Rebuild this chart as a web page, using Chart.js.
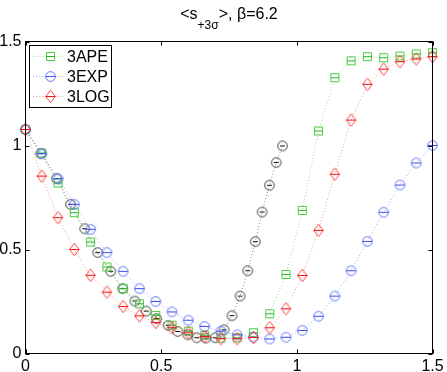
<!DOCTYPE html>
<html><head><meta charset="utf-8">
<script src="https://cdn.jsdelivr.net/npm/chart.js@4/dist/chart.umd.min.js"></script>
<style>html,body{margin:0;padding:0;background:#fff;overflow:hidden}</style>
</head><body>
<canvas id="c" width="447" height="372"></canvas>
<script>
// ---------- data ----------
const xGrid = [0,0.06,0.12,0.18,0.24,0.3,0.36,0.42,0.48,0.54,0.6,0.66,0.72,0.78,0.84,0.9,0.96,1.02,1.08,1.14,1.2,1.26,1.32,1.38,1.44,1.5];
const apeY = [1.077,0.964,0.820,0.677,0.536,0.416,0.312,0.239,0.183,0.136,0.108,0.088,0.074,0.076,0.100,0.191,0.380,0.688,1.070,1.326,1.407,1.427,1.422,1.430,1.440,1.446];
const expY = [1.077,0.961,0.841,0.717,0.597,0.485,0.395,0.312,0.250,0.200,0.160,0.130,0.107,0.090,0.078,0.070,0.078,0.111,0.179,0.276,0.398,0.539,0.679,0.810,0.916,1.000];
const logY = [1.077,0.853,0.653,0.500,0.376,0.295,0.226,0.181,0.149,0.124,0.100,0.082,0.071,0.071,0.077,0.124,0.215,0.375,0.592,0.862,1.122,1.294,1.367,1.403,1.416,1.427];
const refX = [0,0.056,0.114,0.166,0.218,0.266,0.314,0.358,0.403,0.445,0.483,0.526,0.561,0.598,0.631,0.664,0.699,0.732,0.761,0.791,0.819,0.847,0.872,0.899,0.924,0.947];
const refY = [1.077,0.961,0.841,0.717,0.600,0.485,0.395,0.312,0.252,0.204,0.168,0.135,0.106,0.090,0.076,0.074,0.076,0.114,0.182,0.276,0.398,0.538,0.680,0.809,0.918,0.998];
const seriesNames = ['3APE','3EXP','3LOG'];
const tickValues = [0,0.5,1,1.5];
const tickLabels = ['0','0.5','1','1.5'];
const titleParts = ['<s', '+3\u03c3', '>, \u03b2=6.2'];

const FONT = '"Liberation Sans", Arial, Helvetica, sans-serif';

function marker(shape, stroke, inner, innerLen) {
  const c = document.createElement('canvas');
  c.width = 13; c.height = 15;
  const g = c.getContext('2d');
  g.lineWidth = 1;
  g.strokeStyle = stroke;
  const cx = 6.5, cy = 7.5;
  g.beginPath();
  if (shape === 'circle') {
    g.arc(cx, cy, 4.8, 0, Math.PI * 2);
  } else if (shape === 'square') {
    g.rect(cx - 4, cy - 4, 8, 8);
  } else {
    g.moveTo(cx, cy - 6.3); g.lineTo(cx + 4.7, cy); g.lineTo(cx, cy + 6.3); g.lineTo(cx - 4.7, cy); g.closePath();
  }
  g.stroke();
  g.beginPath();
  g.strokeStyle = inner;
  g.moveTo(cx - innerLen / 2, cy); g.lineTo(cx + innerLen / 2, cy);
  g.stroke();
  return c;
}

const mkApe = marker('square', 'rgb(70,205,60)', 'rgb(40,180,40)', 8);
const mkExp = marker('circle', 'rgb(95,115,255)', 'rgb(60,80,240)', 9.6);
const mkLog = marker('diamond', 'rgb(255,70,70)', 'rgb(235,20,20)', 9.4);
const mkRef = marker('circle', 'rgb(60,60,60)', 'rgb(20,20,20)', 5);

function pts(xs, ys) { return xs.map((x, i) => ({x: x, y: ys[i]})); }

function ds(label, data, img, lineColor, order) {
  return {
    label: label, data: data, pointStyle: img, pointRadius: 6,
    borderColor: lineColor, backgroundColor: lineColor, borderWidth: 1,
    borderDash: [1, 2.2], fill: false, tension: 0, clip: false, order: order
  };
}

const frame = {
  id: 'frame',
  afterDraw(chart) {
    const {ctx, chartArea: a, scales} = chart;
    ctx.save();
    ctx.strokeStyle = '#000';
    ctx.lineWidth = 1;
    ctx.strokeRect(a.left, a.top, a.right - a.left, a.bottom - a.top);
    ctx.beginPath();
    tickValues.forEach(v => {
      const x = Math.round(scales.x.getPixelForValue(v)) + 0.5;
      ctx.moveTo(x, a.bottom); ctx.lineTo(x, a.bottom - 4);
      ctx.moveTo(x, a.top); ctx.lineTo(x, a.top + 4);
      const y = Math.round(scales.y.getPixelForValue(v)) + 0.5;
      ctx.moveTo(a.left, y); ctx.lineTo(a.left + 4, y);
      ctx.moveTo(a.right, y); ctx.lineTo(a.right - 4, y);
    });
    ctx.stroke();
    // title
    ctx.fillStyle = '#000';
    ctx.textBaseline = 'alphabetic';
    ctx.font = '16px ' + FONT;
    const w0 = ctx.measureText(titleParts[0]).width;
    const w2 = ctx.measureText(titleParts[2]).width;
    ctx.font = '12px ' + FONT;
    const w1 = ctx.measureText(titleParts[1]).width;
    const total = w0 + w1 + w2;
    let x = (a.left + a.right) / 2 - total / 2;
    ctx.font = '16px ' + FONT;
    ctx.fillText(titleParts[0], x, 19); x += w0;
    ctx.font = '12px ' + FONT;
    ctx.fillText(titleParts[1], x, 28.5); x += w1;
    ctx.font = '16px ' + FONT;
    ctx.fillText(titleParts[2], x, 19);
    // legend box
    const items = chart.data.datasets.filter(d => seriesNames.includes(d.label));
    const bx = 29.5, by = 45.5, bw = 82, bh = 62;
    ctx.fillStyle = '#fff';
    ctx.fillRect(bx, by, bw, bh);
    ctx.strokeStyle = '#000';
    ctx.strokeRect(bx, by, bw, bh);
    items.forEach((d, i) => {
      const ry = 56.5 + i * 20;
      ctx.save();
      ctx.strokeStyle = d.borderColor;
      ctx.setLineDash([1, 2.2]);
      ctx.beginPath(); ctx.moveTo(33, ry); ctx.lineTo(63, ry); ctx.stroke();
      ctx.restore();
      ctx.drawImage(d.pointStyle, 50.5 - 6.5, ry - 7.5);
      ctx.fillStyle = '#000';
      ctx.font = '16px ' + FONT;
      ctx.textBaseline = 'middle';
      ctx.fillText(d.label, 67, ry + 1);
    });
    ctx.restore();
  }
};

new Chart(document.getElementById('c'), {
  type: 'line',
  data: {
    datasets: [
      ds('', pts(refX, refY), mkRef, 'rgba(70,70,70,0.65)', 4),
      ds(seriesNames[0], pts(xGrid, apeY), mkApe, 'rgba(80,210,70,0.6)', 3),
      ds(seriesNames[1], pts(xGrid, expY), mkExp, 'rgba(100,120,255,0.6)', 2),
      ds(seriesNames[2], pts(xGrid, logY), mkLog, 'rgba(255,80,80,0.6)', 1)
    ]
  },
  options: {
    responsive: false, animation: false, devicePixelRatio: 1,
    layout: {padding: {left: 0, top: 41.5, right: 14.5, bottom: 0}},
    plugins: {legend: {display: false}, title: {display: false}, tooltip: {enabled: false}},
    scales: {
      x: {
        type: 'linear', min: 0, max: 1.5,
        grid: {display: false, drawTicks: false}, border: {display: false},
        afterFit: s => { s.height = 18.5; },
        afterBuildTicks: s => { s.ticks = tickValues.map(v => ({value: v})); },
        ticks: {autoSkip: false, maxRotation: 0, padding: 3, color: '#000', font: {size: 16, family: FONT},
          callback: v => tickLabels[tickValues.indexOf(v)]}
      },
      y: {
        type: 'linear', min: 0, max: 1.5,
        grid: {display: false, drawTicks: false}, border: {display: false},
        afterFit: s => { s.width = 25.5; },
        afterBuildTicks: s => { s.ticks = tickValues.map(v => ({value: v})); },
        ticks: {autoSkip: false, padding: 4, color: '#000', font: {size: 16, family: FONT},
          callback: v => tickLabels[tickValues.indexOf(v)]}
      }
    }
  },
  plugins: [frame]
});
</script>
</body></html>
